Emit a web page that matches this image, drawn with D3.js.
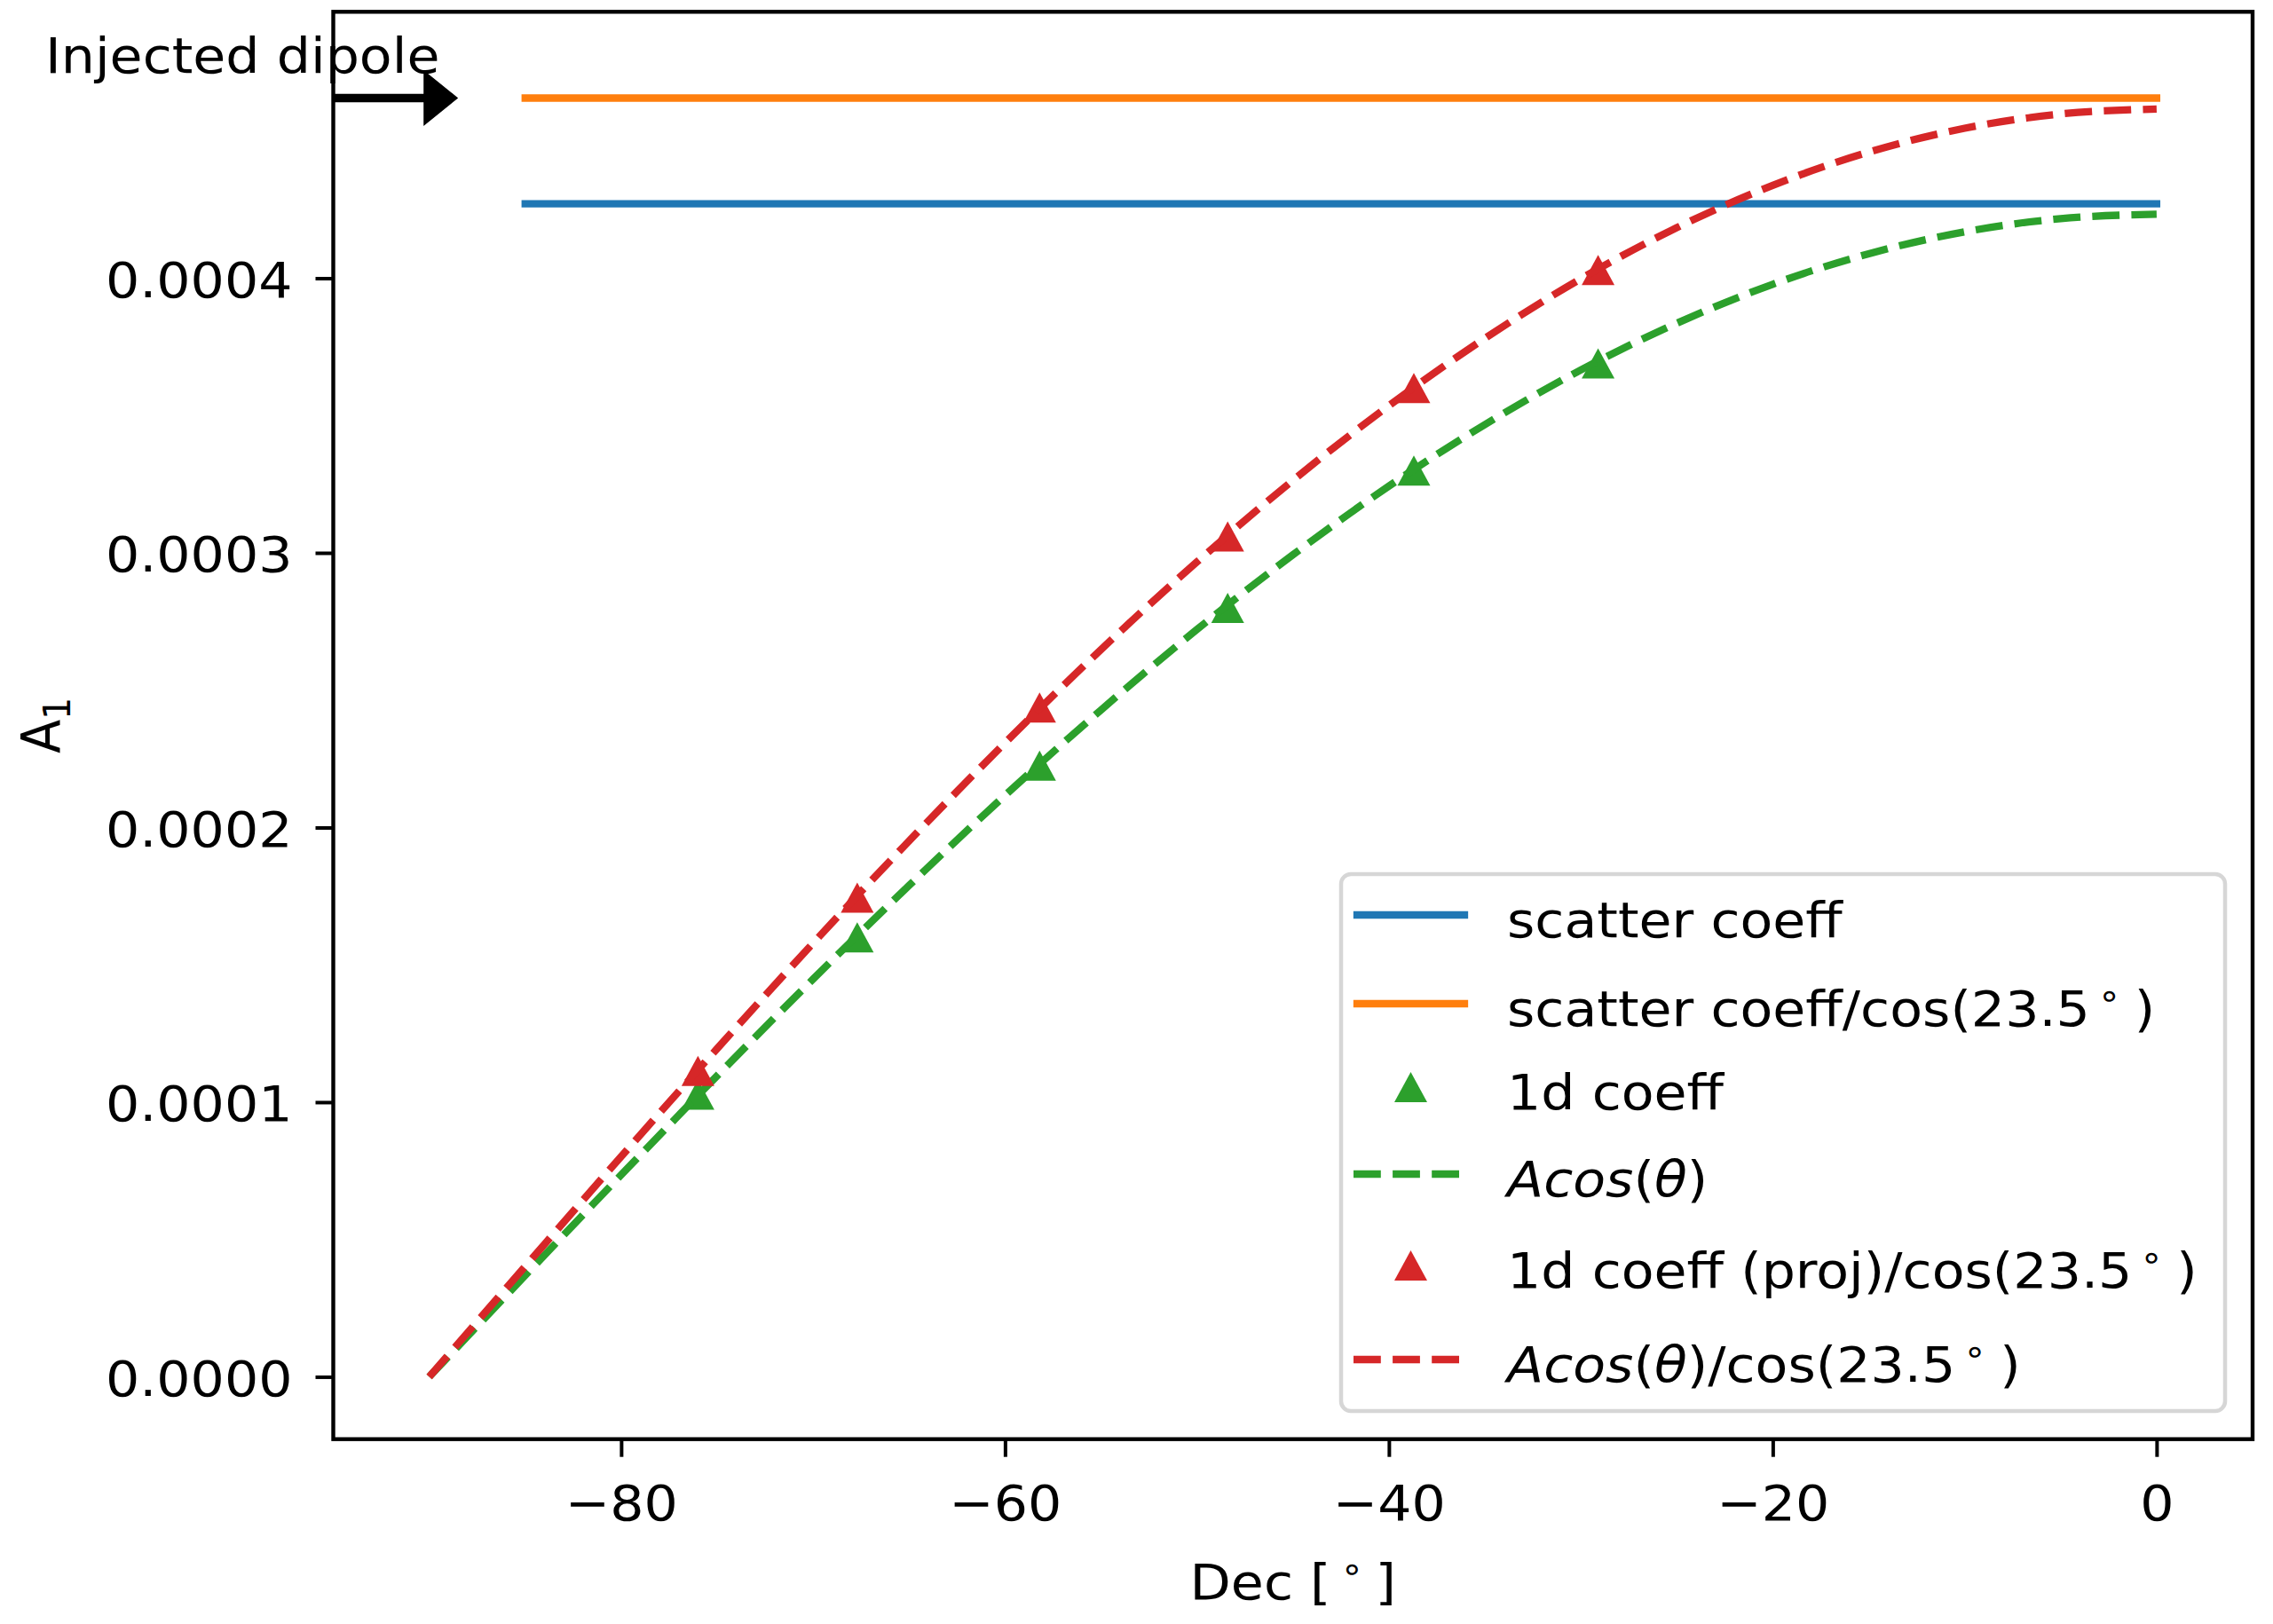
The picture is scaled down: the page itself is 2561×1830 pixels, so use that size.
<!DOCTYPE html>
<html>
<head>
<meta charset="utf-8">
<script src="https://cdn.jsdelivr.net/npm/d3@7"></script>
<style>
  html, body { margin: 0; padding: 0; background: #ffffff; }
  svg text { font-family: "DejaVu Sans", sans-serif; fill: #000; }
</style>
</head>
<body>
<svg id="chart" width="2561" height="1830"></svg>
<script>
// ---- data -------------------------------------------------------------
// declination bin centres of the 1d fits [deg]
const binDec = [-76.0, -67.7, -58.2, -48.4, -38.7, -29.1];
// 1d dipole coefficient per bin
const coeff1d = [1.027e-4, 1.60e-4, 2.225e-4, 2.80e-4, 3.30e-4, 3.69e-4];
// projected 1d coefficient divided by cos(23.5 deg)
const coeffProj = [1.114e-4, 1.745e-4, 2.437e-4, 3.06e-4, 3.60e-4, 4.03e-4];

// amplitude from the scatter fit, shown as flat lines over this Dec span
const scatterDec = [-85, 0];
const scatterCoeff = 4.271e-4;
const scatterCoeffCorr = 4.656e-4;

// A cos(theta) model curves, sampled every 5 degrees
const curveDec = [-90, -85, -80, -75, -70, -65, -60, -55, -50, -45, -40, -35, -30, -25, -20, -15, -10, -5, 0];
const fitCurve = [0, 0.369e-4, 0.735e-4, 1.096e-4, 1.448e-4, 1.789e-4, 2.117e-4, 2.428e-4, 2.721e-4,
                  2.993e-4, 3.243e-4, 3.467e-4, 3.666e-4, 3.836e-4, 3.978e-4, 4.089e-4, 4.169e-4, 4.217e-4, 4.233e-4];
const fitCurveCorr = [0, 0.402e-4, 0.802e-4, 1.195e-4, 1.579e-4, 1.951e-4, 2.308e-4, 2.648e-4, 2.967e-4,
                      3.264e-4, 3.536e-4, 3.781e-4, 3.998e-4, 4.184e-4, 4.338e-4, 4.459e-4, 4.546e-4, 4.598e-4, 4.616e-4];

// axes ticks
const xTicks = [-80, -60, -40, -20, 0];
const yTicks = [0, 0.0001, 0.0002, 0.0003, 0.0004];

// ---- layout & style ------------------------------------------------------
const FS = 56;          // font size
const SX = 1.075;       // horizontal glyph stretch
const LW = 8.3;         // line width
const DASH = "30.8,13.3";
const C = { blue: "#1f77b4", orange: "#ff7f0e", green: "#2ca02c", red: "#d62728" };
const plot = { left: 375.5, right: 2538, top: 13.3, bottom: 1621.7 };

const svg = d3.select("#chart");

const x = d3.scaleLinear().domain([-95, 5]).range([plot.left, plot.right]);
const y = d3.scaleLinear().domain([-2.27e-5, 4.97e-4]).range([plot.bottom, plot.top]);

const line = d3.line().x(d => x(d[0])).y(d => y(d[1]));
const smooth = d3.line().x(d => x(d[0])).y(d => y(d[1])).curve(d3.curveMonotoneX);

// triangle-up marker, centred on its bounding box
const TRI_W = 18.5, TRI_H = 17;
const tri = `M0,${-TRI_H}L${TRI_W},${TRI_H}L${-TRI_W},${TRI_H}Z`;

// text with optional italic / superscript pieces
function richText(g, tx, ty, segs, anchor, extra) {
  const t = g.append("text")
    .attr("transform", `translate(${tx},${ty}) ${extra || ""} scale(${SX},1)`)
    .attr("font-size", FS)
    .attr("text-anchor", anchor || "start");
  segs.forEach(s => {
    const ts = t.append("tspan").text(s.t);
    if (s.i) ts.attr("font-style", "italic");
    if (s.dx !== undefined) ts.attr("dx", s.dx);
    if (s.dy !== undefined) ts.attr("dy", s.dy);
    if (s.fs) ts.attr("font-size", s.fs);
  });
  return t;
}
const deg = (gap) => [{ t: "\u2218", fs: 39, dx: gap, dy: -21 }];

// ---- data marks --------------------------------------------------------
const gData = svg.append("g");

gData.append("path")
  .datum(scatterDec.map(d => [d, scatterCoeff]))
  .attr("d", line).attr("fill", "none")
  .attr("stroke", C.blue).attr("stroke-width", LW).attr("stroke-linecap", "square");

gData.append("path")
  .datum(scatterDec.map(d => [d, scatterCoeffCorr]))
  .attr("d", line).attr("fill", "none")
  .attr("stroke", C.orange).attr("stroke-width", LW).attr("stroke-linecap", "square");

gData.selectAll(".m1d")
  .data(binDec.map((d, i) => [d, coeff1d[i]]))
  .join("path").attr("class", "m1d")
  .attr("d", tri)
  .attr("transform", d => `translate(${x(d[0])},${y(d[1])})`)
  .attr("fill", C.green);

gData.append("path")
  .datum(curveDec.map((d, i) => [d, fitCurve[i]]))
  .attr("d", smooth).attr("fill", "none")
  .attr("stroke", C.green).attr("stroke-width", LW).attr("stroke-dasharray", DASH);

gData.selectAll(".mproj")
  .data(binDec.map((d, i) => [d, coeffProj[i]]))
  .join("path").attr("class", "mproj")
  .attr("d", tri)
  .attr("transform", d => `translate(${x(d[0])},${y(d[1])})`)
  .attr("fill", C.red);

gData.append("path")
  .datum(curveDec.map((d, i) => [d, fitCurveCorr[i]]))
  .attr("d", smooth).attr("fill", "none")
  .attr("stroke", C.red).attr("stroke-width", LW).attr("stroke-dasharray", DASH);

// ---- axes --------------------------------------------------------------
const gx = svg.append("g")
  .attr("transform", `translate(0,${plot.bottom})`)
  .call(d3.axisBottom(x).tickValues(xTicks).tickSize(20).tickFormat(d3.format("d")));
gx.select(".domain").remove();
gx.selectAll(".tick line").attr("stroke", "#000").attr("stroke-width", 4);
gx.selectAll(".tick text")
  .attr("y", 91).attr("dy", 0)
  .attr("font-size", FS).attr("font-family", "DejaVu Sans")
  .attr("fill", "#000")
  .attr("transform", `scale(${SX},1)`);

const gy = svg.append("g")
  .attr("transform", `translate(${plot.left},0)`)
  .call(d3.axisLeft(y).tickValues(yTicks).tickSize(20).tickFormat(d3.format(".4f")));
gy.select(".domain").remove();
gy.selectAll(".tick line").attr("stroke", "#000").attr("stroke-width", 4);
gy.selectAll(".tick text")
  .attr("x", -46 / SX).attr("dy", "0.37em")
  .attr("font-size", FS).attr("font-family", "DejaVu Sans")
  .attr("fill", "#000")
  .attr("transform", `scale(${SX},1)`);

// frame
svg.append("rect")
  .attr("x", plot.left).attr("y", plot.top)
  .attr("width", plot.right - plot.left).attr("height", plot.bottom - plot.top)
  .attr("fill", "none").attr("stroke", "#000").attr("stroke-width", 4.4);

// axis labels
richText(svg, (plot.left + plot.right) / 2, 1802,
  [{ t: "Dec [" }, ...deg(10), { t: "]", dx: 12, dy: 21 }], "middle");

const yl = svg.append("text")
  .attr("transform", `translate(67,${(plot.top + plot.bottom) / 2}) scale(${SX},1) rotate(-90)`)
  .attr("font-size", FS).attr("text-anchor", "middle");
yl.append("tspan").text("A");
yl.append("tspan").text("1").attr("font-size", 39).attr("dy", 11);

// ---- annotation: injected dipole --------------------------------------
const arrowY = y(scatterCoeffCorr);
const arrowTip = x(-88.55);
const headLen = 37, headHalf = 30, shaftHalf = 4;
svg.append("path")
  .attr("d", `M${x(-95)},${arrowY - shaftHalf}L${arrowTip - headLen},${arrowY - shaftHalf}` +
             `L${arrowTip - headLen},${arrowY - headHalf}L${arrowTip},${arrowY}` +
             `L${arrowTip - headLen},${arrowY + headHalf}L${arrowTip - headLen},${arrowY + shaftHalf}` +
             `L${x(-95)},${arrowY + shaftHalf}Z`)
  .attr("fill", "#000").attr("stroke", "#000").attr("stroke-width", 1.5).attr("stroke-linejoin", "miter");

richText(svg, 51, 82, [{ t: "Injected dipole" }], "start");

// ---- legend ------------------------------------------------------------
const lg = svg.append("g");
lg.append("rect")
  .attr("x", 1511).attr("y", 985).attr("width", 996).attr("height", 605).attr("rx", 11)
  .attr("fill", "#fff").attr("fill-opacity", 0.8)
  .attr("stroke", "#cccccc").attr("stroke-opacity", 0.8).attr("stroke-width", 4.5);

const hx0 = 1529, hx1 = 1650, tx = 1698;
const legendRows = [
  { y: 1031, kind: "line", color: C.blue, label: [{ t: "scatter coeff" }] },
  { y: 1131, kind: "line", color: C.orange, label: [{ t: "scatter coeff/cos(23.5" }, ...deg(8), { t: ")", dx: 14, dy: 21 }] },
  { y: 1225, kind: "marker", color: C.green, label: [{ t: "1d coeff" }] },
  { y: 1323, kind: "dash", color: C.green, label: [{ t: "Acos", i: true }, { t: "(" }, { t: "\u03b8", i: true }, { t: ")" }] },
  { y: 1426, kind: "marker", color: C.red, label: [{ t: "1d coeff (proj)/cos(23.5" }, ...deg(8), { t: ")", dx: 14, dy: 21 }] },
  { y: 1532, kind: "dash", color: C.red, label: [{ t: "Acos", i: true }, { t: "(" }, { t: "\u03b8", i: true }, { t: ")/cos(23.5" }, ...deg(8), { t: ")", dx: 14, dy: 21 }] }
];

legendRows.forEach(r => {
  if (r.kind === "marker") {
    lg.append("path").attr("d", tri)
      .attr("transform", `translate(${(hx0 + hx1) / 2},${r.y})`)
      .attr("fill", r.color);
  } else {
    const p = lg.append("line")
      .attr("x1", hx0).attr("x2", hx1).attr("y1", r.y).attr("y2", r.y)
      .attr("stroke", r.color).attr("stroke-width", LW);
    if (r.kind === "dash") p.attr("stroke-dasharray", DASH).attr("x1", hx0 - 4).attr("x2", hx1 + 4);
    else p.attr("stroke-linecap", "square");
  }
  richText(lg, tx, r.y + 25, r.label, "start");
});
</script>
</body>
</html>
